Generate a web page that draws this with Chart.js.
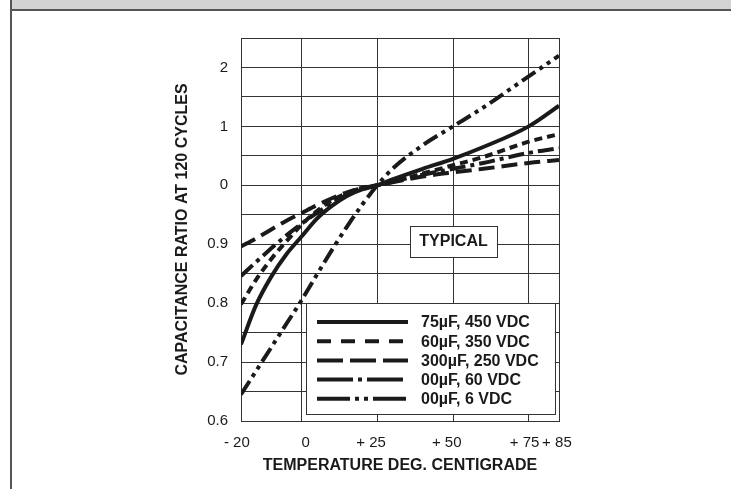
<!DOCTYPE html>
<html>
<head>
<meta charset="utf-8">
<script src="https://cdn.jsdelivr.net/npm/chart.js@4"></script>
<style>
  html, body { margin: 0; padding: 0; background: #fff; }
  #wrap { position: relative; width: 731px; height: 489px; overflow: hidden; }
  #header { position: absolute; left: 10px; top: 0; width: 721px; height: 9px;
            background: #d3d3d3; border-bottom: 2px solid #555; }
  #leftline { position: absolute; left: 10px; top: 0; width: 2px; height: 489px; background: #555; }
  canvas { position: absolute; left: 0; top: 0; }
</style>
</head>
<body>
<div id="wrap">
  <div id="header"></div>
  <div id="leftline"></div>
  <canvas id="chart" width="731" height="489"></canvas>
</div>
<script>
// temperature points (deg C) shared by all curves
const temps = [-20, -15, -10, -5, 0, 5, 10, 15, 20, 25, 30, 40, 50, 60, 75, 85];

// capacitance ratio for each capacitor
const cap75uF450V = [0.730, 0.797, 0.845, 0.883, 0.913, 0.943, 0.965, 0.982, 0.993, 1.0, 1.010, 1.028, 1.045, 1.065, 1.100, 1.135];
const cap60uF350V = [0.798, 0.840, 0.875, 0.905, 0.933, 0.956, 0.974, 0.987, 0.996, 1.0, 1.006, 1.020, 1.034, 1.048, 1.074, 1.087];
const cap300uF250V = [0.896, 0.910, 0.925, 0.940, 0.953, 0.966, 0.978, 0.988, 0.995, 1.0, 1.005, 1.015, 1.022, 1.028, 1.038, 1.043];
const cap00uF60V = [0.846, 0.870, 0.893, 0.915, 0.935, 0.953, 0.970, 0.984, 0.994, 1.0, 1.006, 1.018, 1.028, 1.038, 1.055, 1.063];
const cap00uF6V = [0.645, 0.685, 0.725, 0.765, 0.805, 0.848, 0.890, 0.930, 0.967, 1.0, 1.028, 1.068, 1.100, 1.132, 1.185, 1.220];

const seriesNames = ['75\u00b5F, 450 VDC', '60\u00b5F, 350 VDC', '300\u00b5F, 250 VDC', '00\u00b5F, 60 VDC', '00\u00b5F, 6 VDC'];

const xTicks = [-20, 0, 25, 50, 75, 85];
// labels sit a little off their grid lines in the original
const xTickLabels = ['- 20\u00a0\u00a0', '\u00a0\u00a00', '+ 25\u00a0\u00a0\u00a0', '+ 50\u00a0\u00a0\u00a0', '+ 75\u00a0\u00a0', '+ 85\u00a0'];
const yTickLabels = ['0.6', '0.7', '0.8', '0.9', '0', '1', '2'];

const FONT = '"Liberation Sans", Arial, sans-serif';
const INK = '#1a1a1a';
const GRID = '#333';

const curveDash = [[], [8, 5], [16, 7], [16, 5, 4, 5], [16, 5, 4, 5, 4, 5]];
const legendDash = [[], [14, 10], [26, 7], [36, 5, 4, 5], [33, 5, 4, 5, 4, 5]];
const values = [cap75uF450V, cap60uF350V, cap300uF250V, cap00uF60V, cap00uF6V];

const datasets = values.map((vals, i) => ({
    label: seriesNames[i],
    data: temps.map((t, j) => ({ x: t, y: vals[j] })),
    borderColor: INK,
    borderWidth: 4,
    borderDash: curveDash[i],
    borderCapStyle: 'butt',
    pointRadius: 0,
    fill: false,
    cubicInterpolationMode: 'monotone',
}));

// legend box and "TYPICAL" label drawn inside the plot
const boxes = {
    id: 'boxes',
    beforeDatasetsDraw(chart) {
        const ctx = chart.ctx;
        ctx.save();
        // TYPICAL box
        ctx.fillStyle = '#fff';
        ctx.strokeStyle = GRID;
        ctx.lineWidth = 1;
        ctx.fillRect(410, 226, 87, 31);
        ctx.strokeRect(410.5, 226.5, 87, 31);
        ctx.fillStyle = INK;
        ctx.font = 'bold 16px ' + FONT;
        ctx.textAlign = 'center';
        ctx.textBaseline = 'middle';
        ctx.fillText('TYPICAL', 453.5, 242);

        // legend box
        ctx.fillStyle = '#fff';
        ctx.fillRect(306, 303, 249, 111);
        ctx.strokeRect(306.5, 303.5, 249, 111);
        ctx.font = 'bold 16px ' + FONT;
        ctx.textAlign = 'left';
        ctx.lineWidth = 4;
        ctx.lineCap = 'butt';
        seriesNames.forEach((name, i) => {
            const y = 322 + i * 19.2;
            ctx.strokeStyle = INK;
            ctx.setLineDash(legendDash[i]);
            ctx.beginPath();
            ctx.moveTo(317, y);
            ctx.lineTo(408, y);
            ctx.stroke();
            ctx.fillStyle = INK;
            ctx.fillText(name, 421, y + 1);
        });
        ctx.restore();
    }
};

new Chart(document.getElementById('chart').getContext('2d'), {
    type: 'line',
    data: { datasets },
    plugins: [boxes],
    options: {
        responsive: false,
        animation: false,
        devicePixelRatio: 1,
        layout: { padding: { left: 173, right: 172, top: 38, bottom: 14 } },
        plugins: { legend: { display: false }, tooltip: { enabled: false } },
        scales: {
            x: {
                type: 'linear',
                min: -20,
                max: 85,
                afterBuildTicks: (scale) => { scale.ticks = xTicks.map(v => ({ value: v })); },
                afterFit: (scale) => { scale.height = 54; },
                grid: { color: GRID, lineWidth: 1, drawTicks: false },
                border: { color: GRID, width: 1 },
                ticks: {
                    autoSkip: false,
                    maxRotation: 0,
                    padding: 13,
                    color: INK,
                    font: { family: FONT, size: 15 },
                    callback: (v) => {
                        const i = xTicks.indexOf(v);
                        return i >= 0 ? xTickLabels[i] : '';
                    },
                },
                title: {
                    display: true,
                    text: 'TEMPERATURE DEG. CENTIGRADE',
                    color: INK,
                    font: { family: FONT, size: 16, weight: 'bold' },
                    padding: { top: 0, bottom: 0 },
                },
            },
            y: {
                min: 0.6,
                max: 1.25,
                afterFit: (scale) => { scale.width = 68; },
                grid: { color: GRID, lineWidth: 1, drawTicks: false },
                border: { color: GRID, width: 1 },
                ticks: {
                    stepSize: 0.05,
                    autoSkip: false,
                    padding: 13,
                    color: INK,
                    font: { family: FONT, size: 15 },
                    callback: (v) => {
                        const k = Math.round(v * 100);
                        if (k % 10 !== 0) return '';
                        const i = (k - 60) / 10;
                        return yTickLabels[i] || '';
                    },
                },
                title: {
                    display: true,
                    text: 'CAPACITANCE RATIO AT 120 CYCLES',
                    color: INK,
                    font: { family: FONT, size: 16, weight: 'bold' },
                    padding: { top: 0, bottom: 0 },
                },
            },
        },
    },
});
</script>
</body>
</html>
